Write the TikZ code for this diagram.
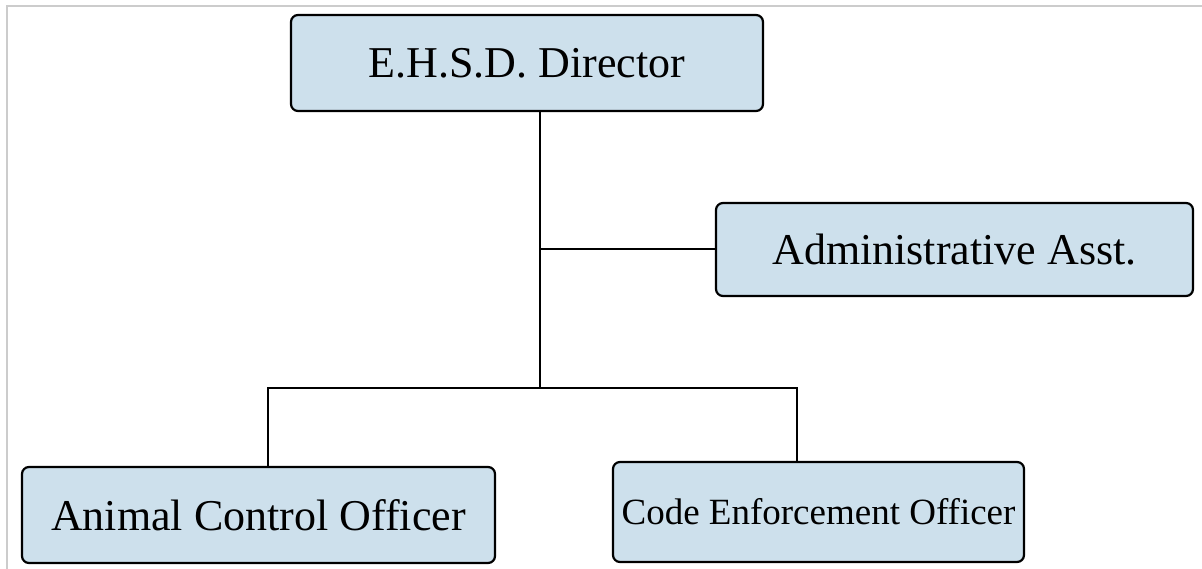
\documentclass[tikz,border=0pt]{standalone}
\usepackage{fontspec}
\setmainfont{Liberation Serif}
\begin{document}
\begin{tikzpicture}[x=1pt,y=-1pt,
  orgbox/.style={draw=black, line width=2.2pt, fill=boxblue, rounded corners=7pt,
    inner sep=0pt, anchor=center, font=\fontsize{44}{50}\selectfont},
  link/.style={draw=black, line width=2pt},
  frame/.style={draw=framegray, line width=1.6pt}]
\definecolor{boxblue}{RGB}{205,224,236}
\definecolor{framegray}{RGB}{204,204,204}
\useasboundingbox (0,0) rectangle (1202,569);
% thin page frame
\draw[frame] (1202,6) -- (7,6) -- (7,569);
% boxes
\node[orgbox, minimum width=472pt, minimum height=96pt] (dir) at (527,63) {E.H.S.D. Director};
\node[orgbox, minimum width=477pt, minimum height=93pt] (adm) at (954.5,249.5) {Administrative Asst.};
\node[orgbox, minimum width=473pt, minimum height=96pt] (acl) at (258.5,515) {Animal Control Officer};
\node[orgbox, minimum width=411pt, minimum height=100pt, font=\fontsize{37}{42}\selectfont] (ceo) at (818.5,512) {Code Enforcement Officer};
% junctions
\coordinate (ja) at (540,249.5);
\coordinate (jb) at (540,388);
\coordinate (jl) at (268,388);
\coordinate (jr) at (797,388);
% connectors
\draw[link] (dir.south -| ja) -- (jb);
\draw[link] (ja) -- (adm.west);
\draw[link] (acl.north -| jl) -- (jl) -- (jr) -- (ceo.north -| jr);
\end{tikzpicture}
\end{document}
